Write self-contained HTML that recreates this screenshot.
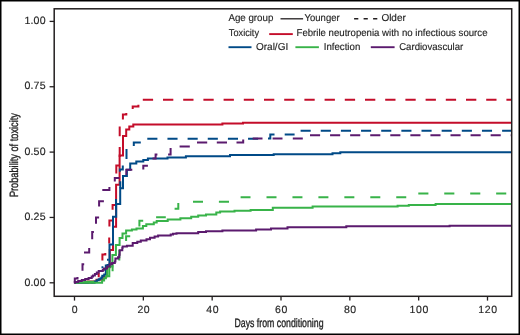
<!DOCTYPE html>
<html><head><meta charset="utf-8"><style>
html,body{margin:0;padding:0;background:#fff;}
body{width:520px;height:335px;overflow:hidden;}
svg{display:block;}
text{text-rendering:geometricPrecision;font-family:"Liberation Sans",sans-serif;fill:#231f20;stroke:#231f20;stroke-width:0.15px;filter:grayscale(1);}
</style></head><body>
<svg width="520" height="335" viewBox="0 0 520 335">
<rect x="0.75" y="0.75" width="518.5" height="333.5" fill="none" stroke="#000" stroke-width="1.5"/>
<g fill="none" stroke-width="2.0" stroke-linejoin="miter" stroke-linecap="butt">
<path d="M74.5 282.8L87.7 282.8L87.7 281.6L96.5 281.6L96.5 279.8L103.5 279.8L103.5 276.5L106.5 276.5L106.5 267.3L109.8 267.3L109.8 249.9L113 249.9L113 226.7L116.1 226.7L116.1 184.7L119.6 184.7L119.6 155.6L123 155.6L123 136L126.2 136L126.2 129.6L129.3 129.6L129.3 126.4L133.3 126.4L133.3 124.6L222.4 124.6L222.4 123.6L243 123.6L243 122.8L511.7 122.8" stroke="#C40D2A"/><path d="M92.3 283.6L92.3 281M98.7 277.3L98.7 272.5M102.4 260.4L102.4 254.6L105.3 254.6L105.3 253M109.2 243.5L109.2 237.5M109.4 226.5L109.4 220.6L112.4 220.6M112.6 209.8L112.6 205L116.5 205M116.3 173.5L116.3 165.6L119.7 165.6M119.7 157L119.7 147M119.7 136.2L119.7 126.5M122.9 119.4L122.9 114.5L126.3 114.5L126.3 113M132.7 108.9L132.7 106.5L138.4 106.5L138.4 104.8M142.8 99.8L153.1 99.8M163 99.8L173.3 99.8M183.2 99.8L193.5 99.8M203.4 99.8L213.7 99.8M223.6 99.8L233.9 99.8M243.8 99.8L254.1 99.8M264 99.8L274.3 99.8M284.2 99.8L294.5 99.8M304.4 99.8L314.7 99.8M324.6 99.8L334.9 99.8M344.8 99.8L355.1 99.8M365 99.8L375.3 99.8M385.2 99.8L395.5 99.8M405.4 99.8L415.7 99.8M425.6 99.8L435.9 99.8M445.8 99.8L456.1 99.8M466 99.8L476.3 99.8M486.2 99.8L496.5 99.8M506.4 99.8L511 99.8" stroke="#C40D2A"/><path d="M74.5 282.8L94.6 282.8L94.6 281.5L96.8 281.5L96.8 280.3L98.7 280.3L98.7 279.3L100.4 279.3L100.4 278.6L101.5 278.6L101.5 277.4L102.3 277.4L102.3 275.7L104.2 275.7L104.2 274.5L105.8 274.5L105.8 265.6L107.5 265.6L107.5 265L109.5 265L109.5 244.4L113 244.4L113 216.8L116.2 216.8L116.2 204.1L120.2 204.1L120.2 188.3L123 188.3L123 176.1L126.9 176.1L126.9 169.8L130.2 169.8L130.2 163.4L136.3 163.4L136.3 161.6L143.3 161.6L143.3 160.1L147.9 160.1L147.9 158.4L167.5 158.4L167.5 157.4L185.9 157.4L185.9 156.3L230 156.3L230 155.1L273.7 155.1L273.7 154.2L332.5 154.2L332.5 153.2L340.3 153.2L340.3 152.2L511.7 152.2" stroke="#004A87"/><path d="M101.5 267.2L103.4 267.2M107 259.7L108.8 259.7M116 209L116 199M120.3 188.3L120.3 181.3M119.9 171.7L119.9 169.4L122.8 169.4L122.8 165.6M126.5 159L126.5 149M133.8 146L133.8 142.5L140.8 142.5M147.3 138.8L157.4 138.8M167.45 138.8L177.55 138.8M187.6 138.8L197.7 138.8M207.75 138.8L217.85 138.8M227.9 138.8L238 138.8M248.05 138.8L258.15 138.8M268 138.6L270.3 138.6L270.3 134.5L274.5 134.5M284.7 134.5L294.6 134.5M300.6 130.8L310.7 130.8M320.75 130.8L330.85 130.8M340.9 130.8L351 130.8M361.05 130.8L371.15 130.8M381.2 130.8L391.3 130.8M401.35 130.8L411.45 130.8M421.5 130.8L431.6 130.8M441.65 130.8L451.75 130.8M461.8 130.8L471.9 130.8M481.95 130.8L492.05 130.8M502.1 130.8L511 130.8" stroke="#004A87"/><path d="M74.5 282.8L102.1 282.8L102.1 280.4L104.1 280.4L104.1 278.3L105.9 278.3L105.9 276.2L109.3 276.2L109.3 266.6L112.4 266.6L112.4 255L115.9 255L115.9 245L119.6 245L119.6 238.1L122.5 238.1L122.5 233.5L126.1 233.5L126.1 230.4L131.9 230.4L131.9 229.4L136.5 229.4L136.5 228.4L142.9 228.4L142.9 226L146.3 226L146.3 224.2L153.8 224.2L153.8 222.5L156.7 222.5L156.7 221L167.7 221L167.7 219.6L180.4 219.6L180.4 218.2L191.2 218.2L191.2 216.8L198.2 216.8L198.2 215.6L206 215.6L206 214.5L216.3 214.5L216.3 212.5L220.1 212.5L220.1 211.6L234.5 211.6L234.5 210.8L250.6 210.8L250.6 209.9L272.8 209.9L272.8 207.7L312.6 207.7L312.6 206.6L397.6 206.6L397.6 205.8L408.8 205.8L408.8 204.9L435.6 204.9L435.6 203.9L511.7 203.9" stroke="#38B349"/><path d="M84.3 282.8L84.3 281.7L94.2 281.7M107.2 276L107.2 269.3M112.6 271.2L112.6 264.4M119.3 260.4L119.3 249.7M126.1 241L126.1 236.2L130.2 236.2M139.4 226.6L139.4 220.8L143.2 220.8M156.1 217.3L165.8 217.3M174.6 208.7L178.3 208.7L178.3 203M193 201.8L203 201.8M218.9 201.8L229 201.8M240.6 197.3L250.5 197.3M266.5 197.2L276.5 197.2M292.45 197.2L302.45 197.2M318.4 197.2L328.4 197.2M344.35 197.2L354.35 197.2M370.3 197.2L380.3 197.2M396.25 197.2L406.25 197.2M418.3 193.4L428.4 193.4M444.25 193.4L454.35 193.4M470.2 193.4L480.3 193.4M496.15 193.4L506.25 193.4" stroke="#38B349"/><path d="M74.5 282.8L74.8 282.8L74.8 281.9L78.2 281.9L78.2 281.1L81.8 281.1L81.8 280.1L85.2 280.1L85.2 279L88.6 279L88.6 277.9L91.7 277.9L91.7 276.6L93 276.6L93 275.6L94.9 275.6L94.9 273.9L96.8 273.9L96.8 272.5L98.7 272.5L98.7 271.1L102.8 271.1L102.8 269.8L104 269.8L104 268.4L107 268.4L107 266.4L109.6 266.4L109.6 264.3L112.1 264.3L112.1 263.1L114.8 263.1L114.8 261.5L115.4 261.5L115.4 258.5L118 258.5L118 257.2L119.3 257.2L119.3 254.8L119.7 254.8L119.7 250.3L122.3 250.3L122.3 248.1L122.6 248.1L122.6 246.5L126.9 246.5L126.9 245.8L132.7 245.8L132.7 243L137.3 243L137.3 241.7L140.8 241.7L140.8 240.6L146.5 240.6L146.5 239.3L150 239.3L150 237.7L154.6 237.7L154.6 236.5L158.1 236.5L158.1 235.4L170.7 235.4L170.7 234.6L173 234.6L173 233.7L176.5 233.7L176.5 233.2L198.2 233.2L198.2 232.1L206 232.1L206 231.3L222.4 231.3L222.4 230.6L256.1 230.6L256.1 229.6L271 229.6L271 228.4L287.5 228.4L287.5 227.2L346.3 227.2L346.3 226.3L449.6 226.3L449.6 225.7L511.7 225.7" stroke="#5B1A6E"/><path d="M74.8 283.4L74.8 278.6L77.5 278.6L77.5 277M82.5 270.8L82.5 264.2L84.2 264.2M84 252.5L89.2 252.5L89.2 248M92.2 239.2L92.2 231.9L93.9 231.9M96 223.8L96 217.5L99.1 217.5M99.1 206.5L99.1 201.3L102.9 201.3L102.9 200.3M102.3 189.9L109.4 189.9L109.4 187.1M114.8 181.5L114.8 177.9L119.5 177.9M126.3 175L126.3 169.8L132.3 169.8M143.3 169.6L143.3 165.7L147.9 165.7M152.5 158.5L155.6 158.5L155.6 154.5L157.4 154.5M168.1 154.5L170.6 154.5L170.6 148.1M179.6 146.4L189.8 146.4M197 142.6L207.2 142.6M216.8 142.5L227 142.5M236.5 142.4L243.2 142.4L243.2 139.5M252.7 138.4L262.5 138.4M272.6 138.4L282.5 138.4M292.8 138.4L302.8 138.4M310 135.3L320.1 135.3M330.07 135.3L340.17 135.3M350.14 135.3L360.24 135.3M370.21 135.3L380.31 135.3M390.28 135.3L400.38 135.3M410.35 135.3L420.45 135.3M430.42 135.3L440.52 135.3M450.49 135.3L460.59 135.3M470.56 135.3L480.66 135.3M490.63 135.3L500.73 135.3M510.7 135.3L511 135.3" stroke="#5B1A6E"/>
</g>
<rect x="54.2" y="8.8" width="457.5" height="287.5" fill="none" stroke="#231f20" stroke-width="1.5"/>
<g stroke="#231f20" stroke-width="1.3"><line x1="74.50" y1="296.3" x2="74.50" y2="300.6"/><line x1="143.33" y1="296.3" x2="143.33" y2="300.6"/><line x1="212.17" y1="296.3" x2="212.17" y2="300.6"/><line x1="281.00" y1="296.3" x2="281.00" y2="300.6"/><line x1="349.83" y1="296.3" x2="349.83" y2="300.6"/><line x1="418.67" y1="296.3" x2="418.67" y2="300.6"/><line x1="487.50" y1="296.3" x2="487.50" y2="300.6"/><line x1="49.6" y1="282.80" x2="54.2" y2="282.80"/><line x1="49.6" y1="217.45" x2="54.2" y2="217.45"/><line x1="49.6" y1="152.10" x2="54.2" y2="152.10"/><line x1="49.6" y1="86.75" x2="54.2" y2="86.75"/><line x1="49.6" y1="21.40" x2="54.2" y2="21.40"/></g>
<g font-size="10.5" text-anchor="middle" letter-spacing="0.6"><text x="75.00" y="313">0</text><text x="143.83" y="313">20</text><text x="212.67" y="313">40</text><text x="281.50" y="313">60</text><text x="350.33" y="313">80</text><text x="419.17" y="313">100</text><text x="488.00" y="313">120</text></g>
<g font-size="10.6" text-anchor="end" letter-spacing="0.15"><text x="45.7" y="285.50">0.00</text><text x="45.7" y="220.15">0.25</text><text x="45.7" y="154.80">0.50</text><text x="45.7" y="89.45">0.75</text><text x="45.7" y="24.10">1.00</text></g>
<text x="279" y="327" font-size="12" text-anchor="middle" transform="translate(279 0) scale(0.73 1) translate(-279 0)" style="stroke-width:0.35px">Days from conditioning</text>
<text transform="translate(17.6 155.1) rotate(-90) scale(0.768 1)" font-size="12" text-anchor="middle" x="0" y="0" style="stroke-width:0.35px">Probability of toxicity</text>
<g font-size="10.0">
<text x="228.4" y="20.8" textLength="45" lengthAdjust="spacingAndGlyphs">Age group</text>
<line x1="280.5" y1="18.8" x2="303.1" y2="18.8" stroke="#231f20" stroke-width="1.3"/>
<text x="304.6" y="20.8" textLength="35" lengthAdjust="spacingAndGlyphs">Younger</text>
<line x1="354.1" y1="18.8" x2="377.4" y2="18.8" stroke="#231f20" stroke-width="1.4" stroke-dasharray="4.2 5.3"/>
<text x="381.4" y="20.8" textLength="24.4" lengthAdjust="spacingAndGlyphs">Older</text>
<text x="228.8" y="36.3" textLength="30.2" lengthAdjust="spacingAndGlyphs">Toxicity</text>
<line x1="269.2" y1="34.1" x2="292.8" y2="34.1" stroke="#C40D2A" stroke-width="1.9"/>
<text x="296.5" y="36.3" textLength="191" lengthAdjust="spacingAndGlyphs">Febrile neutropenia with no infectious source</text>
<line x1="228.5" y1="47.2" x2="251.5" y2="47.2" stroke="#004A87" stroke-width="1.9"/>
<text x="256.0" y="49.6" textLength="32.2" lengthAdjust="spacingAndGlyphs">Oral/GI</text>
<line x1="295.4" y1="47.2" x2="318.9" y2="47.2" stroke="#38B349" stroke-width="1.9"/>
<text x="323.7" y="49.6" textLength="36.6" lengthAdjust="spacingAndGlyphs">Infection</text>
<line x1="370.8" y1="47.2" x2="394.6" y2="47.2" stroke="#5B1A6E" stroke-width="1.9"/>
<text x="399.2" y="49.6" textLength="64" lengthAdjust="spacingAndGlyphs">Cardiovascular</text>
</g>
</svg>
</body></html>
